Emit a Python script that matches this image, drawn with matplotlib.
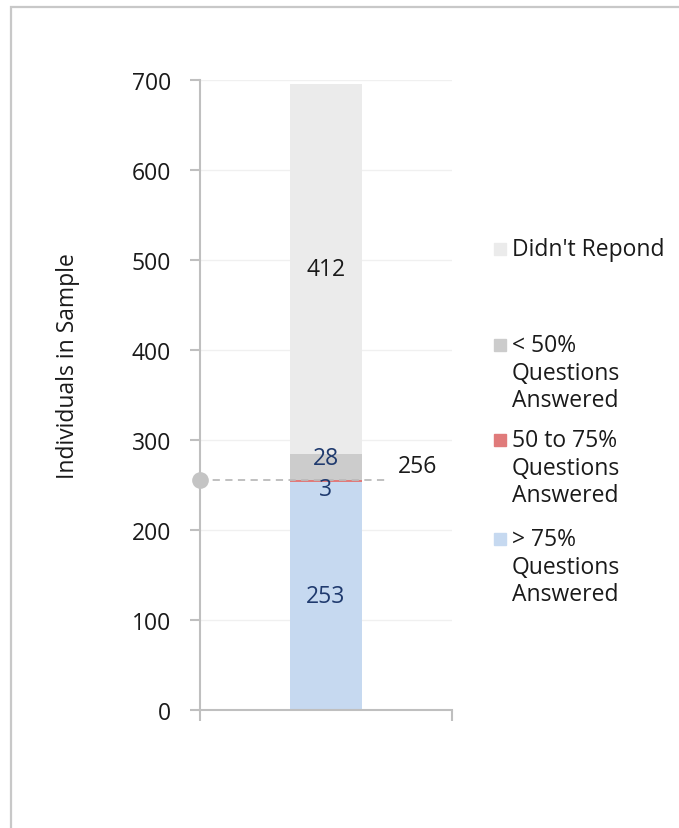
import matplotlib.pyplot as plt
from matplotlib.patches import Rectangle

plt.rcParams['font.family'] = ['Open Sans', 'DejaVu Sans']

# data
segments = ["> 75%\nQuestions\nAnswered", "50 to 75%\nQuestions\nAnswered",
            "< 50%\nQuestions\nAnswered", "Didn't Repond"]
values = [253, 3, 28, 412]
colors = ['#c6d9f0', '#e07b7b', '#cccccc', '#ebebeb']
label_colors = ['#1f3a6e', '#1f3a6e', '#1f3a6e', '#1a1a1a']
label_shift = [0, -9, 10, 0]   # Excel nudges the small labels apart
threshold = 256

W, H = 679, 829
FS = 16.5
fig = plt.figure(figsize=(W / 100, H / 100), dpi=100)
ax = fig.add_axes([200 / W, 1 - 711 / H, 252 / W, 630 / H])

# outer chart frame (only left/top visible)
fig.patches.append(Rectangle((11 / W, -0.1), 1.2, 1 - 8 / H + 0.1,
                             transform=fig.transFigure, fill=False,
                             edgecolor='#c8c8c8', linewidth=1.6))

bottom = 0
for v, c, lc, sh in zip(values, colors, label_colors, label_shift):
    ax.bar(0, v, width=0.286, bottom=bottom, color=c, linewidth=0, zorder=2)
    ax.text(0, bottom + v / 2 + sh, str(v), ha='center', va='center',
            fontsize=FS, color=lc, zorder=4)
    bottom += v

ax.plot([-0.5, 0.242], [threshold, threshold], color='#bbbbbb',
        linestyle=(0, (4, 3)), linewidth=1.3, zorder=3)
ax.plot([-0.5], [threshold], marker='o', markersize=11, color='#c4c4c4',
        zorder=5, clip_on=False)
ax.text(0.365, threshold + 15, str(threshold), ha='center', va='center',
        fontsize=FS, color='#1a1a1a')

ax.set_xlim(-0.5, 0.5)
ax.set_ylim(0, 700)
ax.set_yticks(range(0, 701, 100))
ax.set_xticks([-0.5, 0.5])
ax.set_xticklabels([])
ax.tick_params(axis='y', direction='out', length=7, width=1.5,
               color='#bfbfbf', labelsize=FS, labelcolor='#1a1a1a', pad=14)
ax.tick_params(axis='x', direction='out', length=8, width=1.5,
               color='#bfbfbf')
ax.grid(axis='y', color='#f0f0f0', linewidth=1, zorder=0)
ax.set_axisbelow(True)
for s in ['top', 'right']:
    ax.spines[s].set_visible(False)
for s in ['left', 'bottom']:
    ax.spines[s].set_color('#bfbfbf')
    ax.spines[s].set_linewidth(1.5)

fig.text(68 / W, 1 - 366 / H, 'Individuals in Sample', rotation=90,
         ha='center', va='center', fontsize=FS, color='#1a1a1a')

# legend drawn by hand (Excel spacing)
legend_tops = [238, 334, 429, 528]
for lab, c, top in zip(segments[::-1], colors[::-1], legend_tops):
    fig.patches.append(Rectangle((494 / W, 1 - (top + 18) / H), 12 / W, 12 / H,
                                 transform=fig.transFigure, color=c))
    fig.text(512 / W, 1 - top / H, lab, ha='left', va='top', fontsize=FS,
             color='#1a1a1a', linespacing=1.2)

fig.savefig('out.png', dpi=100)
